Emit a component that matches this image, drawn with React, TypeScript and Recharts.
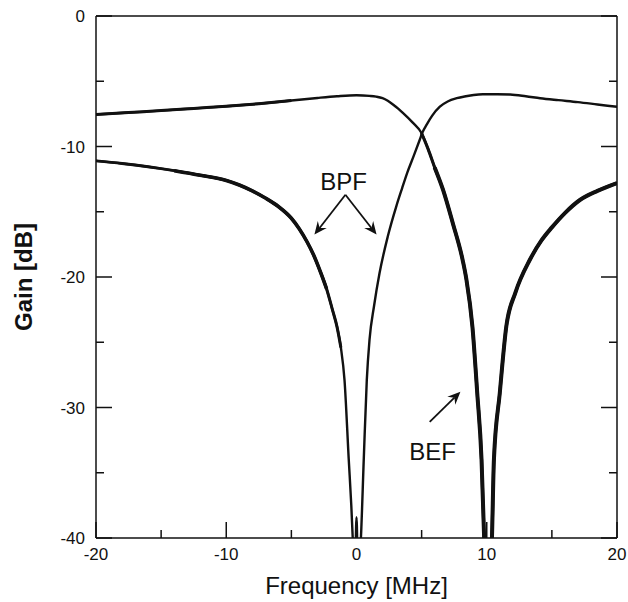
import React from 'react';
import { LineChart, Line, XAxis, YAxis, ReferenceLine, ReferenceDot } from 'recharts';

// frequency grid + gains, curve notching at 0 MHz (labelled BPF)
const bpfFreq = [-20, -18, -16, -14, -12, -10, -9, -8, -7, -6, -5, -4.4, -3.8, -3.3, -2.85, -2.3, -1.85, -1.5, -1.2, -0.92, -0.6, -0.4, -0.28, -0.12, 0, 0.12, 0.33, 0.56, 0.79, 1.0, 1.35, 1.77, 2.4, 3.05, 3.5, 3.9, 4.4, 4.85, 5.05, 5.4, 5.8, 6.4, 7.0, 7.7, 8.4, 9.0, 9.7, 10.8, 11.8, 13, 14.1, 15.5, 17, 18.5, 20];
const bpfGain = [-11.1, -11.3, -11.55, -11.85, -12.2, -12.6, -12.95, -13.4, -13.95, -14.6, -15.5, -16.3, -17.3, -18.3, -19.4, -20.9, -22.5, -23.8, -25.4, -27.9, -33.9, -37.5, -40.2, -43, -38.4, -43, -40.2, -33.9, -27.9, -24.8, -22.2, -19.7, -16.9, -14.6, -13.2, -12.0, -10.7, -9.5, -8.95, -8.3, -7.65, -6.95, -6.55, -6.3, -6.15, -6.05, -6.0, -6.0, -6.02, -6.15, -6.3, -6.45, -6.6, -6.78, -6.96];

// curve notching at 10 MHz (labelled BEF)
const befFreq = [-20, -17.5, -15, -12.5, -10, -7.5, -5, -3, -1.5, 0, 1, 1.5, 2.0, 2.4, 2.8, 3.2, 3.56, 4.3, 4.98, 5.5, 6.0, 6.64, 7.4, 8.15, 8.44, 8.9, 9.27, 9.6, 9.8, 10.1, 10.4, 10.55, 11, 11.5, 12.2, 13.3, 14.2, 15, 16, 17.15, 18.5, 20];
const befGain = [-7.55, -7.4, -7.25, -7.08, -6.92, -6.72, -6.48, -6.28, -6.15, -6.07, -6.12, -6.18, -6.3, -6.5, -6.78, -7.1, -7.42, -8.15, -8.95, -10.2, -11.6, -13.3, -15.9, -18.7, -20.2, -23.8, -28.9, -34, -40, -46, -40, -34, -28.9, -23.8, -21.2, -18.7, -17.2, -16.2, -15.1, -14.1, -13.4, -12.8];

const xTicks = [-20, -15, -10, -5, 0, 5, 10, 15, 20];
const yTicks = [-40, -35, -30, -25, -20, -15, -10, -5, 0];

const bpfData = bpfFreq.map((f, i) => ({ freq: f, gain: bpfGain[i] }));
const befData = befFreq.map((f, i) => ({ freq: f, gain: befGain[i] }));
// parts of the bundles where the traces spread apart and look thicker
const inRange = (data: { freq: number }[], lo: number, hi: number) => data.filter((d) => d.freq >= lo && d.freq <= hi);

const INK = '#111';
const FONT = '"Liberation Sans", Arial, Helvetica, sans-serif';
const tickLen = (v: number) => (v % 10 === 0 ? 16 : 8);

const BottomTick = ({ x, y, payload }: any) => (
  <g>
    <line x1={x} y1={y} x2={x} y2={y - tickLen(payload.value)} stroke={INK} strokeWidth={1.5} />
    {payload.value % 10 === 0 && (
      <text x={x} y={y + 22} textAnchor="middle" fontSize={17} fill={INK} fontFamily={FONT}>
        {payload.value}
      </text>
    )}
  </g>
);

const TopTick = ({ x, y, payload }: any) => (
  <line x1={x} y1={y} x2={x} y2={y + tickLen(payload.value)} stroke={INK} strokeWidth={1.5} />
);

const LeftTick = ({ x, y, payload }: any) => (
  <g>
    <line x1={x} y1={y} x2={x + tickLen(payload.value)} y2={y} stroke={INK} strokeWidth={1.5} />
    {payload.value % 10 === 0 && (
      <text x={x - 11} y={y + 6} textAnchor="end" fontSize={17} fill={INK} fontFamily={FONT}>
        {payload.value}
      </text>
    )}
  </g>
);

const RightTick = ({ x, y, payload }: any) => (
  <line x1={x} y1={y} x2={x - tickLen(payload.value)} y2={y} stroke={INK} strokeWidth={1.5} />
);

// line with a notched arrow head at the second point
const Arrow = (props: any) => {
  const { x1, y1, x2, y2 } = props;
  const a = Math.atan2(y2 - y1, x2 - x1);
  const L = 14;
  const w = 0.42;
  const p1 = [x2 - L * Math.cos(a - w), y2 - L * Math.sin(a - w)];
  const p2 = [x2 - L * Math.cos(a + w), y2 - L * Math.sin(a + w)];
  const n = [x2 - L * 0.6 * Math.cos(a), y2 - L * 0.6 * Math.sin(a)];
  return (
    <g>
      <line x1={x1} y1={y1} x2={n[0]} y2={n[1]} stroke={INK} strokeWidth={1.8} />
      <path d={`M${x2},${y2} L${p1[0]},${p1[1]} L${n[0]},${n[1]} L${p2[0]},${p2[1]} Z`} fill={INK} />
    </g>
  );
};

const label = (text: string) => (p: any) => (
  <text x={p.cx} y={p.cy} textAnchor="middle" fontSize={24} fill={INK} fontFamily={FONT}>
    {text}
  </text>
);

const lineProps = { dataKey: 'gain', type: 'monotone' as const, stroke: INK, dot: false, activeDot: false, isAnimationActive: false };

export default function App() {
  return (
    <div style={{ position: 'absolute', left: 0, top: 0, background: '#fff' }}>
      <LineChart width={628} height={602} margin={{ top: 0, right: 0, bottom: 0, left: 0 }}>
        <XAxis
          dataKey="freq"
          type="number"
          domain={[-20, 20]}
          ticks={xTicks}
          interval={0}
          allowDataOverflow
          height={64}
          tickSize={0}
          tickMargin={0}
          tickLine={false}
          tick={<BottomTick />}
          axisLine={{ stroke: INK, strokeWidth: 1.5 }}
          label={{
            content: (p: any) => (
              <text x={p.viewBox.x + p.viewBox.width / 2} y={p.viewBox.y + 56} textAnchor="middle" fontSize={24} fill={INK} fontFamily={FONT}>
                Frequency [MHz]
              </text>
            ),
          }}
        />
        <XAxis
          xAxisId="top"
          orientation="top"
          type="number"
          domain={[-20, 20]}
          ticks={xTicks}
          interval={0}
          allowDataOverflow
          height={16}
          tickSize={0}
          tickMargin={0}
          tickLine={false}
          tick={<TopTick />}
          axisLine={{ stroke: INK, strokeWidth: 1.5 }}
        />
        <YAxis
          type="number"
          domain={[-40, 0]}
          ticks={yTicks}
          interval={0}
          allowDataOverflow
          width={96}
          tickSize={0}
          tickMargin={0}
          tickLine={false}
          tick={<LeftTick />}
          axisLine={{ stroke: INK, strokeWidth: 1.5 }}
          label={{
            content: (p: any) => {
              const cy = p.viewBox.y + p.viewBox.height / 2;
              return (
                <text x={32} y={cy} transform={`rotate(-90, 32, ${cy})`} textAnchor="middle" fontSize={24} fontWeight="bold" fill={INK} fontFamily={FONT}>
                  Gain [dB]
                </text>
              );
            },
          }}
        />
        <YAxis
          yAxisId="right"
          orientation="right"
          type="number"
          domain={[-40, 0]}
          ticks={yTicks}
          interval={0}
          allowDataOverflow
          width={11}
          tickSize={0}
          tickMargin={0}
          tickLine={false}
          tick={<RightTick />}
          axisLine={{ stroke: INK, strokeWidth: 1.5 }}
        />

        <Line data={bpfData} strokeWidth={2.4} {...lineProps} />
        <Line data={befData} strokeWidth={2.4} {...lineProps} />
        <Line data={inRange(bpfData, -20, -1.2)} strokeWidth={3.0} {...lineProps} />
        <Line data={inRange(bpfData, -14, -2.3)} strokeWidth={3.6} {...lineProps} />
        <Line data={inRange(befData, -20, -5)} strokeWidth={3.0} {...lineProps} />
        <Line data={inRange(befData, 4.98, 20)} strokeWidth={3.1} {...lineProps} />
        <Line data={inRange(befData, 6.0, 20)} strokeWidth={4.0} {...lineProps} />

        <ReferenceLine segment={[{ x: -0.85, y: -13.7 }, { x: -3.23, y: -16.75 }]} shape={<Arrow />} />
        <ReferenceLine segment={[{ x: -0.85, y: -13.7 }, { x: 1.54, y: -16.75 }]} shape={<Arrow />} />
        <ReferenceLine segment={[{ x: 5.62, y: -31.1 }, { x: 7.98, y: -28.8 }]} shape={<Arrow />} />
        <ReferenceDot x={-1.0} y={-13.3} r={0} shape={label('BPF')} />
        <ReferenceDot x={5.85} y={-34.0} r={0} shape={label('BEF')} />
      </LineChart>
    </div>
  );
}
